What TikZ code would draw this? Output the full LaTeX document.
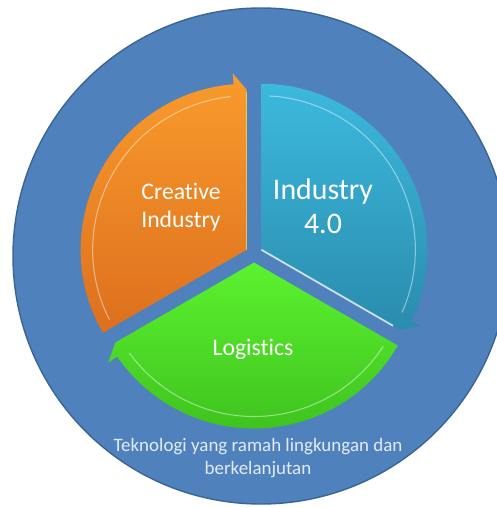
\documentclass[tikz,border=0pt]{standalone}
\usepackage{fontspec}
\setmainfont{Carlito}[Ligatures=NoCommon]
\definecolor{discblue}{HTML}{4F81BD}
\definecolor{discrim}{HTML}{3A6595}
\definecolor{orangetop}{HTML}{F99B2C}
\definecolor{orangebot}{HTML}{DD6F1E}
\definecolor{cyantop}{HTML}{3CB9DE}
\definecolor{cyanbot}{HTML}{2A8CAD}
\definecolor{greentop}{HTML}{5CF22F}
\definecolor{greenbot}{HTML}{3BBD1D}
\definecolor{captiontext}{HTML}{E2EBF6}
\tikzset{
  seglabel/.style={text=white, align=center, font=\fontsize{13.5}{16}\selectfont},
  biglabel/.style={text=white, align=center, font=\fontsize{17}{19.5}\selectfont},
  gloss/.style={white, opacity=.45, line width=.6pt},
}
\begin{document}
\begin{tikzpicture}[x=0.02cm,y=0.02cm]
        %% frame of the picture
        \useasboundingbox (-254,-254) rectangle (243,254);
        \clip (-254,-254) rectangle (243,254);
        %% disc
        \draw[fill=discblue, draw=discrim, line width=.8pt] (7,-2) circle[radius=248];
        %% three arrow segments
        \foreach \m/\ct/\cb in {150/orangetop/orangebot, 30/cyantop/cyanbot, 270/greentop/greenbot}{
          \pgfmathsetmacro\s{\m+60}
          \pgfmathsetmacro\e{\m-60}
          \shade[shift={(\m:8.5)}, top color=\ct, bottom color=\cb]
            (0,0) -- (\s:166) arc[start angle=\s, end angle=\e+4.5, radius=166]
            -- (\e+4.5:177) -- (\e:160) -- cycle;
          \draw[gloss, shift={(\m:8.5)}] (\s-3:154) arc[start angle=\s-3, end angle=\e+6, radius=154];
        }
        %% shine on the edges
        \draw[white, opacity=.75, line width=1pt] ([shift={(30:8.5)}]0,0) -- ([shift={(30:8.5)}]-30:152);
        \draw[yellow!60!white, opacity=.6, line width=.8pt] ([shift={(150:8.5)}]0,0) -- ([shift={(150:8.5)}]90:158);
        %% labels
        \node[seglabel] (creative) at (-73,47) {Creative\\Industry};
        \node[biglabel] (industry) at (69,48) {Industry\\4.0};
        \node[seglabel] (logistics) at (-1,-95) {Logistics};
        \node[text=captiontext, align=center, font=\fontsize{10.8}{13}\selectfont] (caption) at (4,-204)
          {Teknologi yang ramah lingkungan dan\\berkelanjutan};
    \end{tikzpicture}
\end{document}
